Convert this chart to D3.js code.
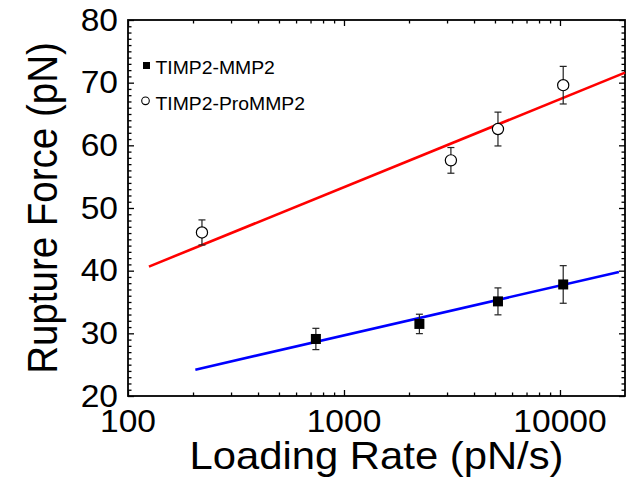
<!DOCTYPE html>
<html>
<head>
<meta charset="utf-8">
<script src="https://cdn.jsdelivr.net/npm/d3@7"></script>
<style>
  body { margin: 0; background: #fff; }
  text { font-family: "Liberation Sans", Arial, sans-serif; fill: #000; }
</style>
</head>
<body>
<div id="chart"></div>
<script>
// data
const mmpRate = [741, 2234, 5163, 10350];
const mmpForce = [29.1, 31.5, 35.1, 37.8];
const mmpErr = [1.7, 1.55, 2.15, 3.0];

const proRate = [220, 3126, 5163, 10350];
const proForce = [46.1, 57.6, 62.6, 69.6];
const proErr = [2.0, 2.05, 2.7, 3.0];

// fitted lines (end points)
const mmpFitRate = [205, 18750];
const mmpFitForce = [24.2, 39.8];
const proFitRate = [125, 20000];
const proFitForce = [40.65, 71.6];

const xMajor = [100, 1000, 10000];
const yMajor = [20, 30, 40, 50, 60, 70, 80];

const width = 635, height = 479;
const margin = {left: 128, right: 10, top: 20, bottom: 83};
const stretch = 1.1; // the original figure is slightly wider than tall

const svg = d3.select('#chart').append('svg')
  .attr('width', width)
  .attr('height', height);

const x = d3.scaleLog()
  .domain([100, 20000])
  .range([margin.left, width - margin.right]);
const y = d3.scaleLinear()
  .domain([20, 80])
  .range([height - margin.bottom, margin.top]);

const x0 = x.range()[0], x1 = x.range()[1];
const y0 = y.range()[0], y1 = y.range()[1];

// minor ticks
const xMinor = x.ticks().filter(v => !xMajor.includes(v) && v < 20000);
const yMinor = y.ticks(60).filter(v => !yMajor.includes(v));

function drawAxis(axis, pos) {
  const g = svg.append('g').attr('transform', pos).call(axis);
  g.select('.domain').remove();
  g.selectAll('line').attr('stroke', '#000').attr('stroke-width', 1.3);
  g.selectAll('text').remove();
}

// bottom + top
drawAxis(d3.axisBottom(x).tickValues(xMajor).tickSize(-6), `translate(0,${y0})`);
drawAxis(d3.axisBottom(x).tickValues(xMinor).tickSize(-3.5), `translate(0,${y0})`);
drawAxis(d3.axisTop(x).tickValues(xMajor).tickSize(-6), `translate(0,${y1})`);
drawAxis(d3.axisTop(x).tickValues(xMinor).tickSize(-3.5), `translate(0,${y1})`);
// left + right
drawAxis(d3.axisLeft(y).tickValues(yMajor).tickSize(-6), `translate(${x0},0)`);
drawAxis(d3.axisLeft(y).tickValues(yMinor).tickSize(-3.5), `translate(${x0},0)`);
drawAxis(d3.axisRight(y).tickValues(yMajor).tickSize(-6), `translate(${x1},0)`);
drawAxis(d3.axisRight(y).tickValues(yMinor).tickSize(-3.5), `translate(${x1},0)`);

// frame
svg.append('rect')
  .attr('x', x0).attr('y', y1)
  .attr('width', x1 - x0).attr('height', y0 - y1)
  .attr('fill', 'none')
  .attr('stroke', '#000')
  .attr('stroke-width', 1.8);

// tick labels
svg.append('g').selectAll('text')
  .data(yMajor)
  .enter().append('text')
  .attr('transform', d => `translate(${x0 - 10},${y(d) + 10.5}) scale(${stretch},1)`)
  .attr('text-anchor', 'end')
  .style('font-size', '30.5px')
  .text(d => d);

svg.append('g').selectAll('text')
  .data(xMajor)
  .enter().append('text')
  .attr('transform', d => `translate(${x(d)},${y0 + 36}) scale(${stretch},1)`)
  .attr('text-anchor', 'middle')
  .style('font-size', '30.5px')
  .text(d => d);

// axis titles
svg.append('text')
  .attr('transform', `translate(${(x0 + x1) / 2},${y0 + 73}) scale(${stretch},1)`)
  .attr('text-anchor', 'middle')
  .style('font-size', '38px')
  .text('Loading Rate (pN/s)');

svg.append('text')
  .attr('transform', `translate(57,${(y0 + y1) / 2}) scale(${stretch},1) rotate(-90)`)
  .attr('text-anchor', 'middle')
  .style('font-size', '38.5px')
  .text('Rupture Force (pN)');

// fit lines
const line = d3.line().x(d => x(d[0])).y(d => y(d[1]));
svg.append('path')
  .datum(proFitRate.map((r, i) => [r, proFitForce[i]]))
  .attr('d', line)
  .attr('fill', 'none')
  .attr('stroke', '#ff0000')
  .attr('stroke-width', 2.6);
svg.append('path')
  .datum(mmpFitRate.map((r, i) => [r, mmpFitForce[i]]))
  .attr('d', line)
  .attr('fill', 'none')
  .attr('stroke', '#0000ff')
  .attr('stroke-width', 2.6);

// error bars
function errorBars(rates, forces, errs) {
  const pts = rates.map((r, i) => ({r, f: forces[i], e: errs[i]}));
  const g = svg.append('g')
    .attr('stroke', '#222')
    .attr('stroke-width', 1.2);
  g.selectAll('.eb').data(pts).enter().append('line')
    .attr('x1', d => x(d.r)).attr('x2', d => x(d.r))
    .attr('y1', d => y(d.f - d.e)).attr('y2', d => y(d.f + d.e));
  g.selectAll('.capT').data(pts).enter().append('line')
    .attr('x1', d => x(d.r) - 3.5).attr('x2', d => x(d.r) + 3.5)
    .attr('y1', d => y(d.f + d.e)).attr('y2', d => y(d.f + d.e));
  g.selectAll('.capB').data(pts).enter().append('line')
    .attr('x1', d => x(d.r) - 3.5).attr('x2', d => x(d.r) + 3.5)
    .attr('y1', d => y(d.f - d.e)).attr('y2', d => y(d.f - d.e));
}
errorBars(proRate, proForce, proErr);
errorBars(mmpRate, mmpForce, mmpErr);

// markers
svg.append('g').selectAll('circle')
  .data(proRate.map((r, i) => [r, proForce[i]]))
  .enter().append('circle')
  .attr('cx', d => x(d[0]))
  .attr('cy', d => y(d[1]))
  .attr('r', 5.6)
  .attr('fill', '#fff')
  .attr('stroke', '#000')
  .attr('stroke-width', 1.2);

svg.append('g').selectAll('rect')
  .data(mmpRate.map((r, i) => [r, mmpForce[i]]))
  .enter().append('rect')
  .attr('x', d => x(d[0]) - 5)
  .attr('y', d => y(d[1]) - 5)
  .attr('width', 10)
  .attr('height', 10)
  .attr('fill', '#000');

// legend
const legend = svg.append('g');
legend.append('rect')
  .attr('x', 143).attr('y', 62)
  .attr('width', 7).attr('height', 7)
  .attr('fill', '#000');
legend.append('text')
  .attr('transform', `translate(155.5,74) scale(${stretch},1)`)
  .style('font-size', '17.6px')
  .text('TIMP2-MMP2');
legend.append('circle')
  .attr('cx', 145.5).attr('cy', 100.8).attr('r', 3.8)
  .attr('fill', '#fff')
  .attr('stroke', '#000')
  .attr('stroke-width', 1.1);
legend.append('text')
  .attr('transform', `translate(155.5,110) scale(${stretch},1)`)
  .style('font-size', '17.6px')
  .text('TIMP2-ProMMP2');
</script>
</body>
</html>
